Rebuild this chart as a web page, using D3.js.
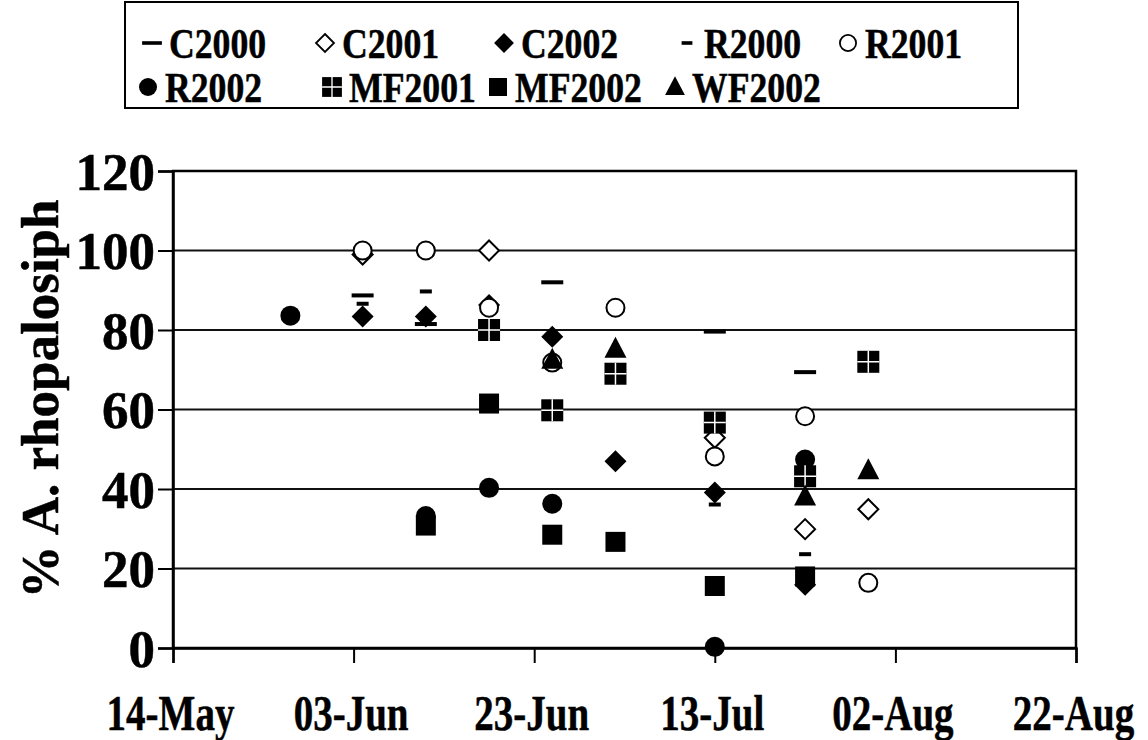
<!DOCTYPE html>
<html>
<head>
<meta charset="utf-8">
<script src="https://cdn.jsdelivr.net/npm/d3@7"></script>
<style>
  html, body { margin: 0; padding: 0; background: #fff; }
  svg text { font-family: "Liberation Serif", "Times New Roman", serif; font-weight: bold; fill: #000; stroke: #000; stroke-width: 0.5px; }
</style>
</head>
<body>
<svg id="chart" width="1148" height="740"></svg>
<script>
// Sampling dates (day-month; a common year is used for all seasons)
const seriesNames = ["C2000", "C2001", "C2002", "R2000", "R2001", "R2002", "MF2001", "MF2002", "WF2002"];

// % A. rhopalosiphi per sampling date, one array per series
const C2000  = [["06-04", 88.7], ["06-11", 81.5], ["06-25", 92.0], ["07-13", 79.6], ["07-23", 69.4]];
const C2001  = [["06-04", 99.0], ["06-18", 100], ["07-13", 52.9], ["07-23", 29.9], ["07-30", 34.9]];
const C2002  = [["06-04", 83.4], ["06-11", 83.4], ["06-18", 86.3], ["06-25", 78.3], ["07-02", 47.0], ["07-13", 39.1], ["07-23", 15.9]];
const R2000  = [["06-04", 86.6], ["06-11", 89.7], ["06-25", 72.0], ["07-02", 70.5], ["07-13", 36.1], ["07-23", 23.6]];
const R2001  = [["06-04", 100], ["06-11", 100], ["06-18", 85.6], ["06-25", 71.8], ["07-02", 85.6], ["07-13", 48.2], ["07-23", 58.3], ["07-30", 16.4]];
const R2002  = [["05-27", 83.6], ["06-11", 33.2], ["06-18", 40.3], ["06-25", 36.3], ["07-13", 0.3], ["07-23", 47.4]];
const MF2001 = [["06-18", 80.0], ["06-25", 59.8], ["07-02", 69.0], ["07-13", 56.7], ["07-23", 43.2], ["07-30", 72.0]];
const MF2002 = [["06-11", 30.8], ["06-18", 61.5], ["06-25", 28.5], ["07-02", 26.7], ["07-13", 15.6], ["07-23", 18.0]];
const WF2002 = [["06-25", 72.5], ["07-02", 75.3], ["07-23", 38.1], ["07-30", 44.7]];

const xTickLabels = ["14-May", "03-Jun", "23-Jun", "13-Jul", "02-Aug", "22-Aug"];
const yTicks = [0, 20, 40, 60, 80, 100, 120];

const seriesData = [C2000, C2001, C2002, R2000, R2001, R2002, MF2001, MF2002, WF2002];
const markerKinds = ["longDash", "openDiamond", "diamond", "shortDash", "openCircle", "circle", "plusSquare", "square", "triangle"];

const YEAR = 2002;
const parseDay = d3.timeParse("%Y-%m-%d");
const toDate = md => parseDay(YEAR + "-" + md);

const svg = d3.select("#chart");
const plot = { left: 173, right: 1076, top: 171, bottom: 648 };

const x = d3.scaleTime()
  .domain([toDate("05-14"), toDate("08-22")])
  .range([plot.left, plot.right]);
const y = d3.scaleLinear().domain([0, 120]).range([plot.bottom, plot.top]);

const xTicks = d3.timeDay.range(toDate("05-14"), d3.timeDay.offset(toDate("08-22"), 1), 20);

// Horizontal gridlines
svg.append("g")
  .selectAll("line")
  .data(yTicks.filter(v => v > 0 && v < 120))
  .join("line")
  .attr("x1", plot.left).attr("x2", plot.right)
  .attr("y1", d => y(d)).attr("y2", d => y(d))
  .attr("stroke", "#111").attr("stroke-width", 2);

// Plot frame
svg.append("rect")
  .attr("x", plot.left).attr("y", plot.top)
  .attr("width", plot.right - plot.left).attr("height", plot.bottom - plot.top)
  .attr("fill", "none").attr("stroke", "#000").attr("stroke-width", 2.5);

// Y axis
const yAxis = d3.axisLeft(y).tickValues(yTicks).tickSize(15).tickPadding(4);
const gy = svg.append("g").attr("transform", `translate(${plot.left},0)`).call(yAxis);
gy.select(".domain").attr("stroke-width", 2.5);
gy.selectAll(".tick line").attr("stroke-width", 2);
gy.selectAll(".tick text").attr("font-size", 53).attr("dy", "0.34em").attr("x", -18);

// X axis
const xAxis = d3.axisBottom(x).tickValues(xTicks).tickSize(15)
  .tickFormat((d, i) => xTickLabels[i]);
const gx = svg.append("g").attr("transform", `translate(0,${plot.bottom})`).call(xAxis);
gx.select(".domain").attr("stroke-width", 2.5);
gx.selectAll(".tick line").attr("stroke-width", 2);
gx.selectAll(".tick text")
  .attr("font-size", 50).attr("dy", 0).attr("y", 82)
  .attr("transform", "translate(-3,0) scale(0.78,1)");
svg.selectAll(".domain").attr("stroke", "#000");
svg.selectAll("g").attr("font-family", null);

// Y axis title
svg.append("text")
  .attr("transform", "translate(58,399) rotate(-90)")
  .attr("text-anchor", "middle")
  .attr("font-size", 53)
  .text("% A. rhopalosiph");

// Marker shapes, centred on (0,0)
function drawMarker(g, kind) {
  switch (kind) {
    case "longDash":
      g.append("rect").attr("x", -11).attr("y", -2).attr("width", 22).attr("height", 4).attr("fill", "#000");
      break;
    case "shortDash":
      g.append("rect").attr("x", -6).attr("y", -2).attr("width", 12).attr("height", 4).attr("fill", "#000");
      break;
    case "openDiamond":
      g.append("path").attr("d", "M0,-10L10,0L0,10L-10,0Z").attr("fill", "#fff").attr("stroke", "#000").attr("stroke-width", 2);
      break;
    case "diamond":
      g.append("path").attr("d", "M0,-11L11,0L0,11L-11,0Z").attr("fill", "#000");
      break;
    case "openCircle":
      g.append("circle").attr("r", 9).attr("fill", "#fff").attr("stroke", "#000").attr("stroke-width", 2);
      break;
    case "circle":
      g.append("circle").attr("r", 10).attr("fill", "#000");
      break;
    case "plusSquare":
      g.append("rect").attr("x", -11).attr("y", -11).attr("width", 22).attr("height", 22).attr("fill", "#000");
      g.append("path").attr("d", "M0,-11V11M-11,0H11").attr("stroke", "#fff").attr("stroke-width", 1.5);
      break;
    case "square":
      g.append("rect").attr("x", -10).attr("y", -10).attr("width", 20).attr("height", 20).attr("fill", "#000");
      break;
    case "triangle":
      g.append("path").attr("d", "M0,-12L11,9L-11,9Z").attr("fill", "#000");
      break;
  }
}

// Data points, series drawn in order so later series sit on top
seriesData.forEach((rows, si) => {
  const g = svg.append("g").attr("class", "series-" + seriesNames[si]);
  g.selectAll("g.pt")
    .data(rows)
    .join("g")
    .attr("class", "pt")
    .attr("transform", d => `translate(${x(toDate(d[0]))},${y(d[1])})`)
    .each(function () { drawMarker(d3.select(this), markerKinds[si]); });
});

// Legend
const legend = svg.append("g");
legend.append("rect")
  .attr("x", 125).attr("y", 2).attr("width", 893).attr("height", 106)
  .attr("fill", "#fff").attr("stroke", "#000").attr("stroke-width", 2);

const legendPos = [
  [152, 43], [325, 43], [504, 43], [687, 43], [848, 43],
  [148, 87], [332, 87], [498, 87], [675, 87]
];
seriesNames.forEach((name, i) => {
  const [lx, ly] = legendPos[i];
  const item = legend.append("g").attr("transform", `translate(${lx},${ly})`);
  drawMarker(item.append("g").attr("transform", "scale(0.9)"), markerKinds[i]);
  item.append("text")
    .attr("transform", "translate(17,0) scale(0.85,1)")
    .attr("dy", "0.35em")
    .attr("font-size", 42)
    .text(name);
});
</script>
</body>
</html>
